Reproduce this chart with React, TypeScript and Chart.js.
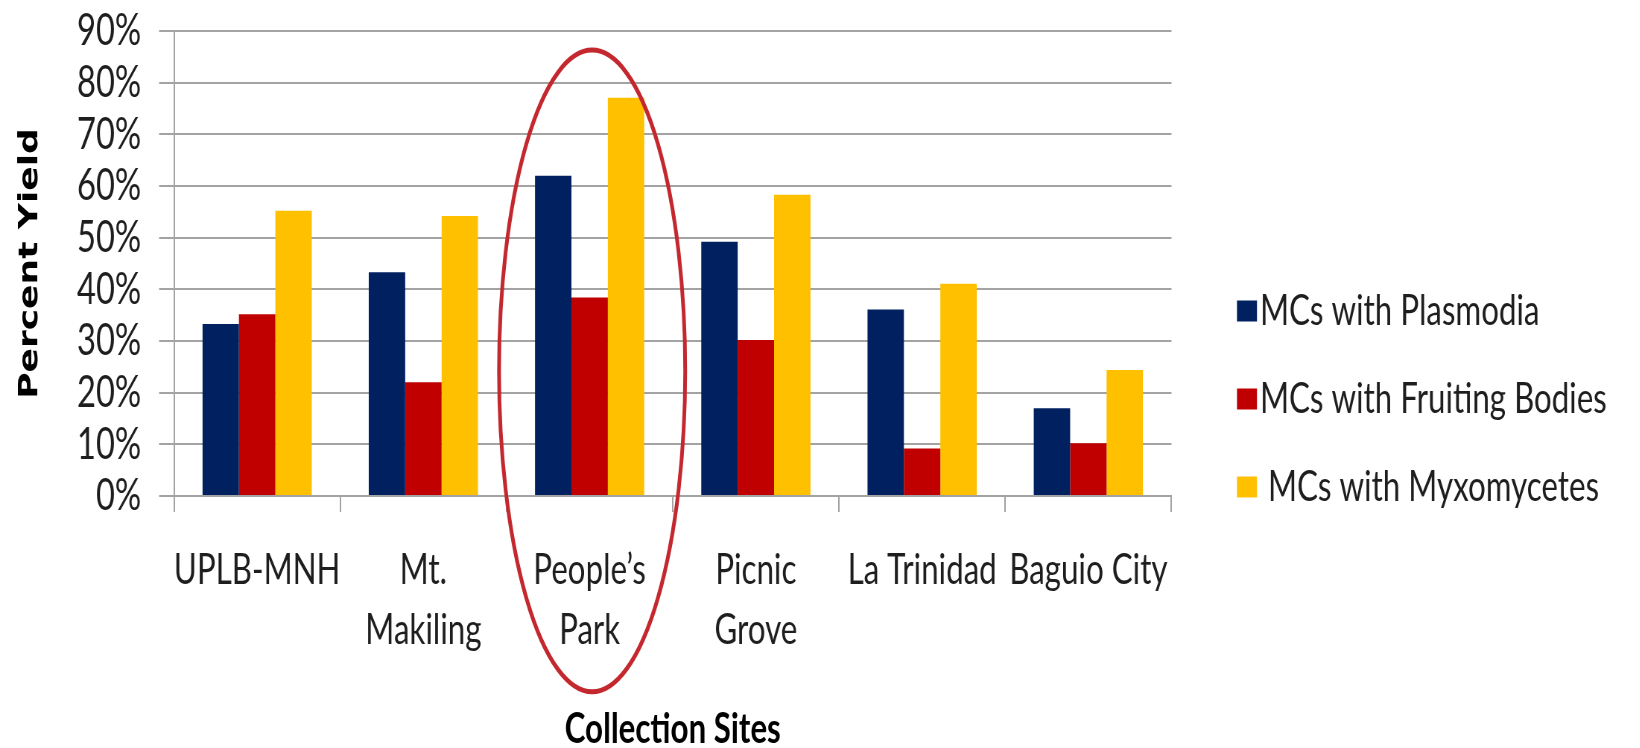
import React, { useEffect, useRef } from "react";
import { Chart, registerables } from "chart.js";

Chart.register(...registerables);

// ---- data ----
const sites: (string | string[])[] = [
  "UPLB-MNH",
  ["Mt.", "Makiling"],
  ["People’s", "Park"],
  ["Picnic", "Grove"],
  "La Trinidad",
  "Baguio City",
];
const plasmodia = [33.3, 43.3, 62.0, 49.2, 36.1, 17.0];
const fruitingBodies = [35.2, 22.0, 38.4, 30.2, 9.2, 10.2];
const myxomycetes = [55.2, 54.2, 77.1, 58.3, 41.1, 24.4];
const seriesNames = ["MCs with Plasmodia", "MCs with Fruiting Bodies", " MCs with Myxomycetes"];
const seriesColors = ["#002060", "#C00000", "#FFC000"];
const yMin = 0;
const yMax = 90;
const yStep = 10;

// highlighted site: index plus the vertical reach of the ring, in percent units
const highlightIndex = 2;
const highlightTop = 86.3;
const highlightBottom = -37.9;

// ---- look ----
const W = 1640;
const H = 748;
const SQUEEZE = 0.745; // horizontal condensing of the whole drawing
const CW = W / SQUEEZE;
const PLOT_LEFT = 174;
const PLOT_RIGHT = 1171.5;
const PLOT_TOP = 31;
const PLOT_BOTTOM = 496;
const gridColor = "#a3a3a3";
const textColor = "#1e1e1e";
const ringColor = "#c3282e";
const sans = "Lato, 'Open Sans', sans-serif";

const ringPlugin = {
  id: "highlightRing",
  afterDraw(chart: any) {
    const x = chart.scales.x;
    const y = chart.scales.y;
    const cat = Math.abs(x.getPixelForValue(1) - x.getPixelForValue(0));
    const cx = x.getPixelForValue(highlightIndex) + cat * 0.015;
    const top = y.getPixelForValue(highlightTop);
    const bottom = y.getPixelForValue(highlightBottom);
    const ctx = chart.ctx;
    ctx.save();
    ctx.beginPath();
    ctx.ellipse(cx, (top + bottom) / 2, cat * 0.56, (bottom - top) / 2, 0, 0, Math.PI * 2);
    ctx.strokeStyle = ringColor;
    ctx.lineWidth = 5;
    ctx.stroke();
    ctx.restore();
  },
};

const legendPlugin = {
  id: "sideLegend",
  afterDraw(chart: any) {
    const ctx = chart.ctx;
    const area = chart.chartArea;
    const boxX = area.right + 65.5 / SQUEEZE;
    const textX = area.right + 88.5 / SQUEEZE;
    const firstY = 311;
    const gap = 88;
    ctx.save();
    ctx.font = `42px ${sans}`;
    ctx.textBaseline = "middle";
    ctx.textAlign = "left";
    chart.data.datasets.forEach((ds: any, i: number) => {
      const cy = firstY + gap * i;
      ctx.fillStyle = ds.backgroundColor;
      ctx.fillRect(boxX, cy - 10.5, 20 / SQUEEZE, 21);
      ctx.fillStyle = textColor;
      ctx.fillText(ds.label, textX, cy);
    });
    ctx.restore();
  },
};

export default function App() {
  const ref = useRef<HTMLCanvasElement | null>(null);

  useEffect(() => {
    if (!ref.current) return;
    const values = [plasmodia, fruitingBodies, myxomycetes];
    const chart = new Chart(ref.current, {
      type: "bar",
      data: {
        labels: sites,
        datasets: values.map((v, i) => ({
          label: seriesNames[i],
          data: v,
          backgroundColor: seriesColors[i],
          borderWidth: 0,
          categoryPercentage: 0.657,
          barPercentage: 1,
        })),
      },
      options: {
        animation: false,
        responsive: true,
        maintainAspectRatio: false,
        layout: {
          padding: { top: PLOT_TOP, left: 0, bottom: 0, right: CW - PLOT_RIGHT / SQUEEZE },
        },
        plugins: { legend: { display: false }, tooltip: { enabled: false } },
        scales: {
          x: {
            grid: {
              drawOnChartArea: false,
              drawTicks: true,
              tickLength: 16,
              color: gridColor,
              lineWidth: 2,
              offset: true,
            },
            border: { color: gridColor, width: 2 },
            ticks: {
              color: textColor,
              font: { family: sans, size: 42, lineHeight: 1.43 },
              maxRotation: 0,
              minRotation: 0,
              autoSkip: false,
              padding: 28,
            },
            title: {
              display: true,
              text: "Collection Sites",
              color: "#000",
              font: { family: sans, size: 42, weight: "bold", lineHeight: 0.9 },
              padding: { top: 0, bottom: 0 },
            },
            afterFit: (s: any) => {
              s.height = H - PLOT_BOTTOM;
            },
          },
          y: {
            min: yMin,
            max: yMax,
            ticks: {
              stepSize: yStep,
              autoSkip: false,
              color: textColor,
              font: { family: sans, size: 44, lineHeight: 1 },
              padding: 24,
              callback: (v: any) => `${v}%`,
            },
            grid: { color: gridColor, lineWidth: 2, tickLength: 20 },
            border: { color: gridColor, width: 2 },
            title: {
              display: true,
              text: "Percent Yield",
              color: "#000",
              font: { family: "'DejaVu Sans', Verdana, sans-serif", size: 36, weight: "bold", lineHeight: 1.2 },
              padding: { top: 19, bottom: 0 },
            },
            afterFit: (s: any) => {
              s.width = PLOT_LEFT / SQUEEZE;
              s.paddingTop = 0;
              s.paddingBottom = 0;
            },
          },
        },
      } as any,
      plugins: [ringPlugin, legendPlugin],
    });
    return () => chart.destroy();
  }, []);

  return (
    <div
      style={{
        position: "fixed",
        left: 0,
        top: 0,
        width: W,
        height: H,
        overflow: "hidden",
        background: "#fff",
      }}
    >
      <div
        style={{
          position: "relative",
          width: CW,
          height: H,
          transform: `scaleX(${SQUEEZE})`,
          transformOrigin: "0 0",
        }}
      >
        <canvas ref={ref} />
      </div>
    </div>
  );
}
